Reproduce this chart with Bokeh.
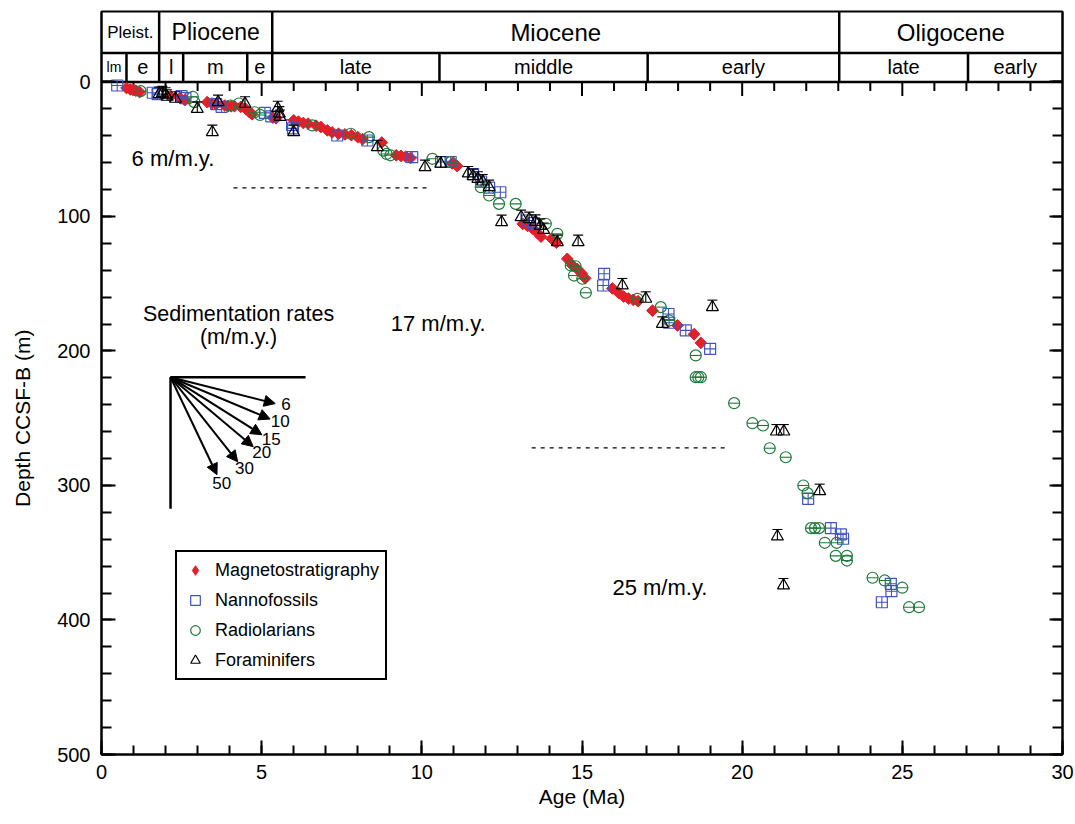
import math

from bokeh.core.properties import value
from bokeh.embed import file_html
from bokeh.layouts import row
from bokeh.models import (Arrow, FixedTicker, Label, Legend, LegendItem,
                          LinearAxis, NormalHead, Range1d)
from bokeh.plotting import figure
from bokeh.resources import INLINE

FONT = "Liberation Sans"

# ---------------------------------------------------------------- datums
# Magnetostratigraphy (age Ma, depth m)
mag_age = [0.78, 0.9, 0.99, 1.07, 1.19, 2.15, 2.45, 2.6, 3.3, 3.45, 3.58, 3.85,
           3.95, 4.05, 4.15, 4.35, 4.5, 4.62, 4.7, 5.35, 5.45, 6.0, 6.15, 6.3,
           6.45, 6.7, 6.85, 7.05, 7.2, 7.4, 7.6, 7.8, 8.0, 8.15, 8.75, 9.2,
           9.35, 9.5, 9.65, 10.95, 11.1, 13.15, 13.3, 13.45, 13.6, 13.72, 14.05,
           14.2, 14.54, 14.7, 14.85, 15.0, 15.1, 15.95, 16.15, 16.3, 16.45,
           16.6, 16.75, 17.2, 17.98, 18.5, 18.71]
mag_depth = [4.5, 5.5, 6.0, 6.5, 7.5, 10.5, 12, 13.5, 15, 16, 16.5, 17.5,
             18, 18, 18, 18.5, 20, 22.5, 24, 26.5, 27, 28.5, 29.5, 30.5,
             31, 32.5, 33.5, 36, 37.5, 38.5, 39, 39.5, 41, 42.5, 45, 54.5,
             55, 55.5, 56.5, 60.5, 62.5, 105.5, 107, 109, 112, 115, 116.5,
             119.5, 131.5, 136.5, 139, 142.5, 146, 153.5, 157, 159.5, 161,
             162, 163, 170, 181, 187.5, 194]

# Nannofossil datums
nan_age = [0.49, 1.6, 1.75, 2.5, 2.62, 3.58, 3.75, 5.1, 5.3, 5.95, 5.98, 7.36,
           8.3, 9.7, 10.6, 10.9, 11.6, 11.85, 12.1, 12.45, 13.3, 13.5, 15.69,
           15.66, 17.7, 17.72, 18.24, 19.0, 22.06, 22.77, 23.08, 23.15, 24.64,
           24.66, 24.36]
nan_depth = [2.6, 8, 9, 10.5, 12, 16.5, 18.5, 23, 25.5, 32, 34.5, 39.8,
             43.5, 55.9, 59.5, 59.5, 68.5, 74, 78.5, 82, 103, 105, 142.6,
             151.3, 172.5, 179, 184.7, 198.4, 309.9, 331.7, 336.4, 339.6, 373.1,
             378.6, 386.8]

# Radiolarian datums
rad_age = [1.22, 2.85, 2.9, 4.03, 4.29, 4.78, 4.95, 6.58, 7.78, 8.35, 8.8, 8.9,
           9.02, 10.33, 10.9, 11.84, 12.1, 12.41, 12.93, 13.87, 14.23, 14.65,
           14.8, 14.75, 15.01, 15.12, 16.73, 17.46, 17.72, 18.55, 18.55, 18.63,
           18.71, 19.75, 20.32, 20.65, 20.86, 21.36, 21.91, 22.04, 22.15, 22.27,
           22.4, 22.58, 22.95, 22.92, 23.27, 23.27, 24.07, 24.45, 25.0, 25.21,
           25.52]
rad_depth = [6.8, 11, 15, 17.5, 16, 22.5, 24.5, 32.3, 38.5, 41, 51, 53.5,
             54.5, 57.1, 59.6, 78.2, 84.4, 90.6, 90.6, 105.4, 112.9, 136.4,
             137, 143.9, 146.3, 156.7, 161.2, 167.4, 177.3, 203.3, 219.5, 219.5,
             219.5, 238.8, 253.7, 255.4, 272.3, 279, 300, 305.7, 331.7, 331.7,
             331.7, 342.6, 342.6, 352.3, 352.3, 355.8, 368.6, 370.6, 376, 390.5,
             390.5]

# Planktonic foraminifer datums
for_age = [1.8, 1.9, 2.0, 2.05, 2.31, 2.99, 3.46, 3.64, 4.48, 5.5, 5.55, 5.57,
           6.0, 8.61, 10.1, 10.59, 11.45, 11.6, 11.75, 11.9, 12.1, 12.49, 13.1,
           13.35, 13.55, 13.7, 13.8, 14.23, 14.88, 16.26, 16.99, 17.51, 19.07,
           21.07, 21.3, 22.42, 21.1, 21.29]
for_depth = [9, 8.5, 9.5, 11, 12.5, 20, 37.3, 15, 16.2, 19.5, 23.5, 26,
             37.3, 48.5, 63.3, 60.8, 68, 70, 72, 74, 78.2, 104.2, 100.5,
             102, 104, 107, 110, 119.1, 119.1, 151.3, 161.2, 179.8, 167.4,
             259.9, 259.9, 304.2, 337.9, 374.3]

# Chronostratigraphic header
epoch_names = ["Pleist.", "Pliocene", "Miocene", "Oligocene"]
epoch_bounds = [0, 1.8, 5.33, 23.03, 30]
epoch_sizes = ["17px", "23px", "24px", "24px"]
sub_names = ["lm", "e", "l", "m", "e", "late", "middle", "early", "late", "early"]
sub_bounds = [0, 0.78, 1.8, 2.55, 4.55, 5.33, 10.55, 17.05, 23.03, 27.05, 30]
sub_sizes = ["14px"] + ["20px"] * 9

# Sedimentation-rate intervals: label text, label anchor (age, depth)
rate_labels = ["6 m/m.y.", "17 m/m.y.", "25 m/m.y."]
rate_label_age = [0.94, 9.03, 15.95]
rate_label_depth = [56.9, 179.6, 375.6]
# Interval boundaries (dashed): age start, age end, depth
break_age0 = [4.12, 13.43]
break_age1 = [10.21, 19.55]
break_depth = [78.7, 272.0]

# Rate key (m/m.y.)
key_rates = [6, 10, 15, 20, 30, 50]
key_origin = (2.155, 219.5)
key_h_end = 6.37
key_v_end = 317.3

# ---------------------------------------------------------------- layout
W, H = 1075, 824
TITLE_W = 40                      # strip holding the rotated depth title
LEFT, RIGHT, TOP, BOTTOM = 101, 13, 11, 70
AGE_MIN, AGE_MAX = 0, 30
DEPTH_MAX = 500
HEADER_TOP = -52.4
HEADER_MID = -21.6
PX_PER_MA = (W - LEFT - RIGHT) / (AGE_MAX - AGE_MIN)
PX_PER_M = (H - TOP - BOTTOM) / (DEPTH_MAX - HEADER_TOP)

RED = "#E2202A"
BLUE = "#4153C2"
GREEN = "#1F7A3D"
BLACK = "#000000"

depth_range = Range1d(DEPTH_MAX, HEADER_TOP)

p = figure(width=W - TITLE_W, height=H,
           x_range=Range1d(AGE_MIN, AGE_MAX),
           y_range=depth_range,
           x_axis_type=None, y_axis_type=None,
           output_backend="svg", toolbar_location=None,
           min_border_left=LEFT - TITLE_W, min_border_right=RIGHT,
           min_border_top=TOP, min_border_bottom=BOTTOM,
           background_fill_color="white", border_fill_color="white",
           outline_line_color="black", outline_line_width=2)


def style_axis(ax, major_in, minor_in):
    ax.axis_line_color = "black"
    ax.axis_line_width = 2
    ax.major_tick_in = major_in
    ax.major_tick_out = 0
    ax.minor_tick_in = minor_in
    ax.minor_tick_out = 0
    ax.major_tick_line_width = 2
    ax.minor_tick_line_width = 2
    ax.major_tick_line_color = "black"
    ax.minor_tick_line_color = "black"
    ax.major_label_text_font = FONT
    ax.major_label_text_font_size = "20px"
    ax.major_label_text_color = "black"
    ax.axis_label_text_font = FONT
    ax.axis_label_text_font_size = "21px"
    ax.axis_label_text_font_style = "normal"
    ax.axis_label_text_color = "black"


x_ticks = FixedTicker(ticks=list(range(0, 31, 5)), minor_ticks=list(range(0, 31)))
y_ticks = FixedTicker(ticks=list(range(0, 501, 100)), minor_ticks=list(range(0, 501, 20)))

xax = LinearAxis(ticker=x_ticks, axis_label="Age (Ma)")
style_axis(xax, 14, 9)
xax.major_label_standoff = 10
xax.axis_label_standoff = 3
p.add_layout(xax, "below")

yax = LinearAxis(ticker=y_ticks)
style_axis(yax, 14, 10)
yax.major_label_standoff = 11
p.add_layout(yax, "left")

rax = LinearAxis(ticker=y_ticks)
style_axis(rax, 13, 10)
rax.major_label_text_font_size = "0px"
rax.major_label_standoff = 0
p.add_layout(rax, "right")

# Age ticks hanging from the header base
top_major = [t for t in range(1, 30) if t % 5 == 0]
top_minor = [t for t in range(1, 30) if t % 5 != 0]
p.segment(x0=top_minor, y0=[0] * len(top_minor), x1=top_minor,
          y1=[9 / PX_PER_M] * len(top_minor), line_color="black", line_width=2)
p.segment(x0=top_major, y0=[0] * len(top_major), x1=top_major,
          y1=[14 / PX_PER_M] * len(top_major), line_color="black", line_width=2)

# ---------------------------------------------------------------- header
p.segment(x0=[AGE_MIN, AGE_MIN], y0=[HEADER_MID, 0], x1=[AGE_MAX, AGE_MAX],
          y1=[HEADER_MID, 0], line_color="black", line_width=2.5)
ep_inner = epoch_bounds[1:-1]
p.segment(x0=ep_inner, y0=[HEADER_TOP] * len(ep_inner), x1=ep_inner,
          y1=[HEADER_MID] * len(ep_inner), line_color="black", line_width=2.5)
sub_inner = sub_bounds[1:-1]
p.segment(x0=sub_inner, y0=[HEADER_MID] * len(sub_inner), x1=sub_inner,
          y1=[0] * len(sub_inner), line_color="black", line_width=2.5)

for name, a0, a1, fs in zip(epoch_names, epoch_bounds[:-1], epoch_bounds[1:], epoch_sizes):
    p.add_layout(Label(x=(a0 + a1) / 2, y=(HEADER_TOP + HEADER_MID) / 2, text=name,
                       text_font=FONT, text_font_size=fs, text_align="center",
                       text_baseline="middle", text_color="black"))
for name, a0, a1, fs in zip(sub_names, sub_bounds[:-1], sub_bounds[1:], sub_sizes):
    p.add_layout(Label(x=(a0 + a1) / 2, y=HEADER_MID / 2, text=name,
                       text_font=FONT, text_font_size=fs, text_align="center",
                       text_baseline="middle", text_color="black"))

# ---------------------------------------------------------------- rate notes
p.segment(x0=break_age0, y0=break_depth, x1=break_age1, y1=break_depth,
          line_color="black", line_width=1.3, line_dash="4 5")
for txt, a, d in zip(rate_labels, rate_label_age, rate_label_depth):
    p.add_layout(Label(x=a, y=d, text=txt, text_font=FONT, text_font_size="22px",
                       text_align="left", text_baseline="middle", text_color="black"))

# ---------------------------------------------------------------- rate key
ox, oy = key_origin
p.add_layout(Label(x=ox + 68 / PX_PER_MA, y=oy - 63 / PX_PER_M, text="Sedimentation rates",
                   text_font=FONT, text_font_size="21.5px", text_align="center",
                   text_baseline="middle", text_color="black"))
p.add_layout(Label(x=ox + 68 / PX_PER_MA, y=oy - 40 / PX_PER_M, text="(m/m.y.)",
                   text_font=FONT, text_font_size="21.5px", text_align="center",
                   text_baseline="middle", text_color="black"))
p.segment(x0=[ox, ox], y0=[oy, oy], x1=[key_h_end, ox], y1=[oy, key_v_end],
          line_color="black", line_width=2.5)

ARROW_PX = 108
for r in key_rates:
    ang = math.atan2(r * PX_PER_M, PX_PER_MA)
    ex = ox + ARROW_PX * math.cos(ang) / PX_PER_MA
    ey = oy + ARROW_PX * math.sin(ang) / PX_PER_M
    p.add_layout(Arrow(x_start=ox, y_start=oy, x_end=ex, y_end=ey,
                       line_color="black", line_width=2,
                       end=NormalHead(size=11, fill_color="black", line_color="black")))
    lx = ex + 11 * math.cos(ang) / PX_PER_MA
    ly = ey + (11 * math.sin(ang) - 2) / PX_PER_M
    p.add_layout(Label(x=lx, y=ly, text=str(r), text_font=FONT, text_font_size="17px",
                       text_align="center", text_baseline="middle", text_color="black"))

# ---------------------------------------------------------------- datums
# plain diamonds sit fully beneath the rotated squares; they give the key its glyph
r_mag = p.scatter(mag_age, mag_depth, marker="diamond", size=10,
                  fill_color=RED, line_color=RED, line_width=1)
p.scatter(mag_age, mag_depth, marker="square", size=8.3, angle=math.pi / 4,
          fill_color=RED, line_color=RED, line_width=1)

r_nan = p.scatter(nan_age, nan_depth, marker="square", size=11, fill_color=None,
                  line_color=BLUE, line_width=1.2)
p.scatter(nan_age, nan_depth, marker="cross", size=11, line_color=BLUE, line_width=1.1)

r_rad = p.scatter(rad_age, rad_depth, marker="circle", size=11, fill_color=None,
                  line_color=GREEN, line_width=1.2)
p.scatter(rad_age, rad_depth, marker="dash", size=11, line_color=GREEN, line_width=1.1)

r_for = p.scatter(for_age, for_depth, marker="triangle", size=12, fill_color=None,
                  line_color=BLACK, line_width=1.2)
cap_depth = [d - 7 / PX_PER_M for d in for_depth]
base_depth = [d + 3.5 / PX_PER_M for d in for_depth]
p.segment(x0=for_age, y0=cap_depth, x1=for_age, y1=base_depth,
          line_color=BLACK, line_width=1.1)
p.scatter(for_age, cap_depth, marker="dash", size=10, line_color=BLACK, line_width=1.1)

legend = Legend(items=[
    LegendItem(label="Magnetostratigraphy", renderers=[r_mag]),
    LegendItem(label="Nannofossils", renderers=[r_nan]),
    LegendItem(label="Radiolarians", renderers=[r_rad]),
    LegendItem(label="Foraminifers", renderers=[r_for]),
], location=(74, 74))
legend.border_line_color = "black"
legend.border_line_width = 2
legend.border_line_alpha = 1
legend.background_fill_color = "white"
legend.background_fill_alpha = 1
legend.label_text_font = FONT
legend.label_text_font_size = "18px"
legend.label_text_color = "black"
legend.glyph_width = 24
legend.glyph_height = 24
legend.label_height = 24
legend.spacing = 6
legend.padding = 6
legend.margin = 0
legend.label_standoff = 8
p.add_layout(legend, "center")

# ---------------------------------------------------------------- depth title strip
# Narrow companion figure sharing the depth range; the title sits at the middle
# of the 0-500 m span rather than the middle of the whole frame (header included).
t = figure(width=TITLE_W, height=H, x_range=Range1d(0, TITLE_W), y_range=depth_range,
           x_axis_type=None, y_axis_type=None, output_backend="svg",
           toolbar_location=None, min_border_left=0, min_border_right=0,
           min_border_top=TOP, min_border_bottom=BOTTOM, outline_line_color=None,
           background_fill_color="white", border_fill_color="white")
t.text(x=[22], y=[DEPTH_MAX / 2], text=["Depth CCSF-B (m)"], angle=math.pi / 2,
       text_font=value(FONT), text_font_size="21px", text_align="center",
       text_baseline="middle", text_color="black")

layout = row(t, p, spacing=0)
open("out.html", "w").write(file_html(layout, INLINE))
